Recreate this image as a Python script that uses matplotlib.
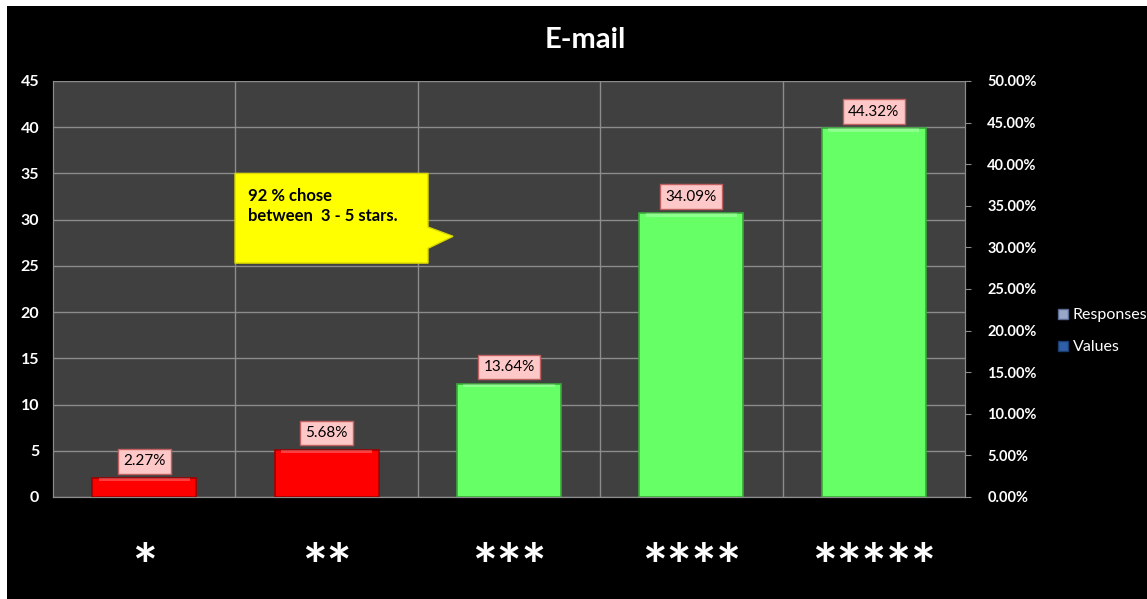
import numpy as np
import matplotlib.pyplot as plt
from matplotlib.patches import Rectangle, Polygon
from matplotlib.lines import Line2D

plt.rcParams['font.family'] = ['Lato', 'DejaVu Sans']

# star ratings and how many responses each got
categories = ['*', '**', '***', '****', '*****']
responses = [2, 5, 12, 30, 39]
bar_colors = ['#ff0000', '#ff0000', '#66ff66', '#66ff66', '#66ff66']
edge_colors = ['#a00000', '#a00000', '#3aa83a', '#3aa83a', '#3aa83a']
count_ticks = list(range(0, 50, 5))
pct_ticks = [i / 100 for i in range(0, 55, 5)]

total = sum(responses)
shares = [r / total for r in responses]

fig = plt.figure(figsize=(11.47, 5.99), dpi=100)
fig.patch.set_facecolor('white')
# black chart area, leaving a thin white strip at top and left
fig.patches.append(Rectangle((7 / 1147, 0), 1, 1 - 6 / 599, transform=fig.transFigure,
                             facecolor='black', edgecolor='none', zorder=-10))

ax = fig.add_axes([53 / 1147, 102 / 599, 912 / 1147, 416 / 599])
ax.set_facecolor('#404040')
ax.set_xlim(-0.5, len(categories) - 0.5)
ax.set_ylim(0, 45)
ax.set_yticks(count_ticks)
ax.set_yticklabels([str(t) for t in count_ticks], color='white', fontweight='bold', fontsize=11.5)
ax.tick_params(axis='y', length=0, pad=10)
ax.set_xticks(range(len(categories)))
ax.set_xticklabels(categories, color='white', fontweight='bold', fontsize=42)
ax.tick_params(axis='x', length=0, pad=33)
ax.set_xticks(np.arange(0.5, len(categories) - 0.5), minor=True)
ax.grid(True, which='minor', axis='x', color='#8c8c8c', lw=1)
ax.grid(True, which='major', axis='y', color='#8c8c8c', lw=1)
ax.tick_params(axis='x', which='minor', length=0)
for s in ax.spines.values():
    s.set_color('#8c8c8c')
ax.spines['top'].set_visible(False)
ax.set_axisbelow(True)

ax2 = ax.twinx()
ax2.set_ylim(0, 0.5)
ax2.set_yticks(pct_ticks)
ax2.set_yticklabels(['%.2f%%' % (t * 100) for t in pct_ticks], color='white',
                    fontweight='bold', fontsize=10.5)
ax2.tick_params(axis='y', length=4, color='#8c8c8c', pad=12)
for s in ax2.spines.values():
    s.set_color('#8c8c8c')
ax2.spines['top'].set_visible(False)

x = np.arange(len(categories))
ax2.bar(x, shares, width=0.57, color=bar_colors, edgecolor=edge_colors, lw=1.2, zorder=3)
# lighter strip along the top of each bar
for xi, v in zip(x, shares):
    ax2.bar(xi, 0.004, bottom=v - 0.004, width=0.5, color='white', alpha=0.25, lw=0, zorder=4)

for xi, v in zip(x, shares):
    ax2.annotate('%.2f%%' % (v * 100), (xi, v), xytext=(0, 12), textcoords='offset points',
                 ha='center', va='center', fontsize=11, color='black', zorder=6,
                 bbox=dict(boxstyle='square,pad=0.35', fc='#ffc8c8', ec='#c06060', lw=1))

# callout box
callout = Polygon([(0.498, 35.0), (1.556, 35.0), (1.556, 29.2), (1.693, 28.2),
                   (1.556, 26.9), (1.556, 25.3), (0.498, 25.3)],
                  closed=True, fc='#ffff00', ec='#d8d800', lw=1, zorder=5)
ax.add_patch(callout)
ax.text(0.57, 31.5, '92 % chose\nbetween  3 - 5 stars.', fontsize=12, fontweight='bold',
        color='black', va='center', ha='left', linespacing=1.35, zorder=6)

fig.text(0.51, 0.933, 'E-mail', color='white', fontweight='bold', fontsize=21,
         ha='center', va='center')

handles = [Line2D([], [], marker='s', ls='none', markersize=7, markerfacecolor='#9aa8c8',
                  markeredgecolor='#5a6a90'),
           Line2D([], [], marker='s', ls='none', markersize=7, markerfacecolor='#2f5fa8',
                  markeredgecolor='#1c3c70')]
leg = fig.legend(handles, ['Responses', 'Values'], loc='center left',
                 bbox_to_anchor=(1041 / 1147, 0.447), frameon=False, fontsize=11.5,
                 handletextpad=0.1, labelspacing=1.1, handlelength=1.0)
for t in leg.get_texts():
    t.set_color('white')

fig.savefig('out.png', dpi=100, facecolor=fig.get_facecolor())
